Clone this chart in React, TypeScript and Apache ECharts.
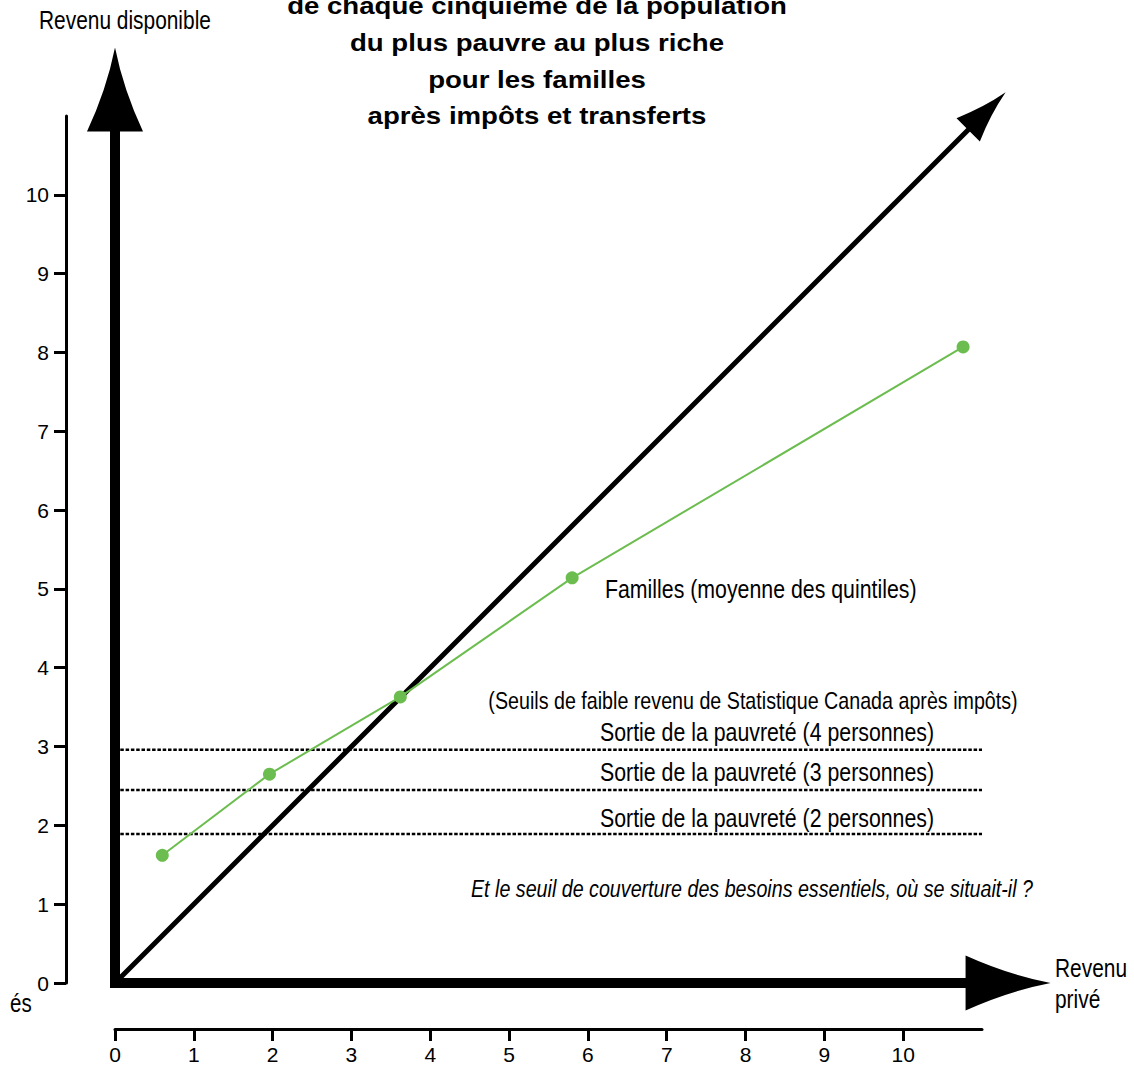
import React, { useEffect, useRef } from "react";
import * as echarts from "echarts";

// ---- data ----
const xTicks = [0, 1, 2, 3, 4, 5, 6, 7, 8, 9, 10];
const yTicks = [0, 1, 2, 3, 4, 5, 6, 7, 8, 9, 10];
const axisMax = 11;

// Families, average of quintiles (private income -> disposable income)
const familyX = [0.6, 1.96, 3.62, 5.8, 10.76];
const familyY = [1.62, 2.65, 3.63, 5.14, 8.07];

// Low income cut-offs after tax (Statistique Canada)
const thresholdValues = [2.96, 2.45, 1.89];
const thresholdLabels = [
  "Sortie de la pauvreté (4 personnes)",
  "Sortie de la pauvreté (3 personnes)",
  "Sortie de la pauvreté (2 personnes)",
];

// Thick decorative axes and the 45° line: [x0, y0, xTip, yTip]
const arrowSegments = [
  [0, 0, 0, 11.87],
  [0, 0, 11.87, 0],
  [0, 0, 11.3, 11.3],
];

const titleLines = [
  "de chaque cinquième de la population",
  "du plus pauvre au plus riche",
  "pour les familles",
  "après impôts et transferts",
];

// ---- styles ----
const SANS = "'Liberation Sans', Arial, Helvetica, sans-serif";
const NARROW_SCALE = 0.82;
const GREEN = "#6cbd4f";
const arrowStyles = [
  { lw: 10, head: 84, headWidth: 56 },
  { lw: 10, head: 85, headWidth: 55 },
  { lw: 5, head: 53, headWidth: 33 },
];

const f = (n: number) => n.toFixed(2);

export default function App() {
  const ref = useRef<HTMLDivElement>(null);

  useEffect(() => {
    if (!ref.current) return;
    const chart = echarts.init(ref.current, undefined, { renderer: "svg" });

    const series: any[] = [
      {
        type: "custom",
        coordinateSystem: "cartesian2d",
        clip: false,
        silent: true,
        z: 1,
        data: arrowSegments,
        encode: { x: [0, 2], y: [1, 3] },
        renderItem: (params: any, api: any) => {
          const st = arrowStyles[params.dataIndex];
          const p0 = api.coord([api.value(0), api.value(1)]);
          const p1 = api.coord([api.value(2), api.value(3)]);
          const dx = p1[0] - p0[0];
          const dy = p1[1] - p0[1];
          const len = Math.hypot(dx, dy);
          const ux = dx / len;
          const uy = dy / len;
          const nx = -uy;
          const ny = ux;
          const bx = p1[0] - ux * st.head;
          const by = p1[1] - uy * st.head;
          const hw = st.headWidth / 2;
          const b1 = [bx + nx * hw, by + ny * hw];
          const b2 = [bx - nx * hw, by - ny * hw];
          const mx = bx + (ux * st.head) / 2;
          const my = by + (uy * st.head) / 2;
          const c1 = [mx + nx * hw * 0.3, my + ny * hw * 0.3];
          const c2 = [mx - nx * hw * 0.3, my - ny * hw * 0.3];
          const d =
            `M ${f(b1[0])} ${f(b1[1])} Q ${f(c1[0])} ${f(c1[1])} ${f(p1[0])} ${f(p1[1])} ` +
            `Q ${f(c2[0])} ${f(c2[1])} ${f(b2[0])} ${f(b2[1])} Z`;
          return {
            type: "group",
            children: [
              {
                type: "line",
                shape: {
                  x1: p0[0],
                  y1: p0[1],
                  x2: bx + ux * 4,
                  y2: by + uy * 4,
                },
                style: { stroke: "#000", lineWidth: st.lw, lineCap: "square" },
              },
              {
                type: "path",
                shape: { pathData: d },
                style: { fill: "#000", stroke: "none" },
              },
            ],
          };
        },
      },
      ...thresholdValues.map((v) => ({
        type: "line",
        z: 3,
        symbol: "none",
        silent: true,
        data: [
          [0, v],
          [axisMax, v],
        ],
        lineStyle: { color: "#000", width: 2.5, type: [3.5, 1.8] },
      })),
      {
        type: "line",
        z: 5,
        symbol: "circle",
        symbolSize: 13,
        data: familyX.map((x, i) => [x, familyY[i]]),
        lineStyle: { color: GREEN, width: 2 },
        itemStyle: { color: GREEN },
      },
    ];

    const txt = (
      text: string,
      x: number,
      y: number,
      size: number,
      align: string,
      extra: any = {}
    ) => ({
      type: "text",
      x,
      y,
      scaleX: NARROW_SCALE,
      silent: true,
      z: 10,
      style: {
        text,
        fontSize: size,
        fontFamily: SANS,
        fill: "#000",
        align,
        verticalAlign: "middle",
        ...extra,
      },
    });

    const titleY = [6, 43, 80, 116];
    const thresholdLabelY = [732, 772, 818];

    const graphic: any[] = [
      ...titleLines.map((t, i) => ({
        type: "text",
        x: 537,
        y: titleY[i],
        scaleX: 1.2,
        silent: true,
        z: 10,
        style: {
          text: t,
          fontSize: 23,
          fontWeight: "bold",
          fontFamily: SANS,
          fill: "#000",
          align: "center",
          verticalAlign: "middle",
        },
      })),
      txt("Revenu disponible", 39, 20, 25.5, "left"),
      txt("Revenu", 1055, 968, 25.5, "left"),
      txt("privé", 1055, 999, 25.5, "left"),
      txt("és", 10, 1003, 25, "left"),
      txt("Familles (moyenne des quintiles)", 605, 589, 26, "left"),
      txt("(Seuils de faible revenu de Statistique Canada après impôts)", 753, 701, 24, "center"),
      ...thresholdLabels.map((t, i) => txt(t, 767, thresholdLabelY[i], 26, "center")),
      txt(
        "Et le seuil de couverture des besoins essentiels, où se situait-il ?",
        752,
        889,
        24,
        "center",
        { fontStyle: "italic" }
      ),
    ];

    chart.setOption({
      animation: false,
      backgroundColor: "#fff",
      grid: { left: 115, right: 152, top: 116, bottom: 86 },
      xAxis: {
        type: "value",
        min: 0,
        max: axisMax,
        interval: 1,
        position: "bottom",
        offset: 46,
        axisLine: { show: true, onZero: false, lineStyle: { color: "#000", width: 3 } },
        axisTick: {
          show: true,
          length: 12,
          customValues: xTicks,
          lineStyle: { color: "#000", width: 3 },
        },
        axisLabel: {
          customValues: xTicks,
          fontSize: 21,
          fontFamily: SANS,
          color: "#000",
          margin: 15,
        },
        splitLine: { show: false },
      },
      yAxis: {
        type: "value",
        min: 0,
        max: axisMax,
        interval: 1,
        position: "left",
        offset: 49,
        axisLine: { show: true, onZero: false, lineStyle: { color: "#000", width: 3 } },
        axisTick: {
          show: true,
          length: 12,
          customValues: yTicks,
          lineStyle: { color: "#000", width: 3 },
        },
        axisLabel: {
          customValues: yTicks,
          fontSize: 21,
          fontFamily: SANS,
          color: "#000",
          margin: 17,
        },
        splitLine: { show: false },
      },
      series,
      graphic,
    });

    return () => chart.dispose();
  }, []);

  return (
    <div
      ref={ref}
      style={{ position: "absolute", left: 0, top: 0, width: 1134, height: 1069 }}
    />
  );
}
